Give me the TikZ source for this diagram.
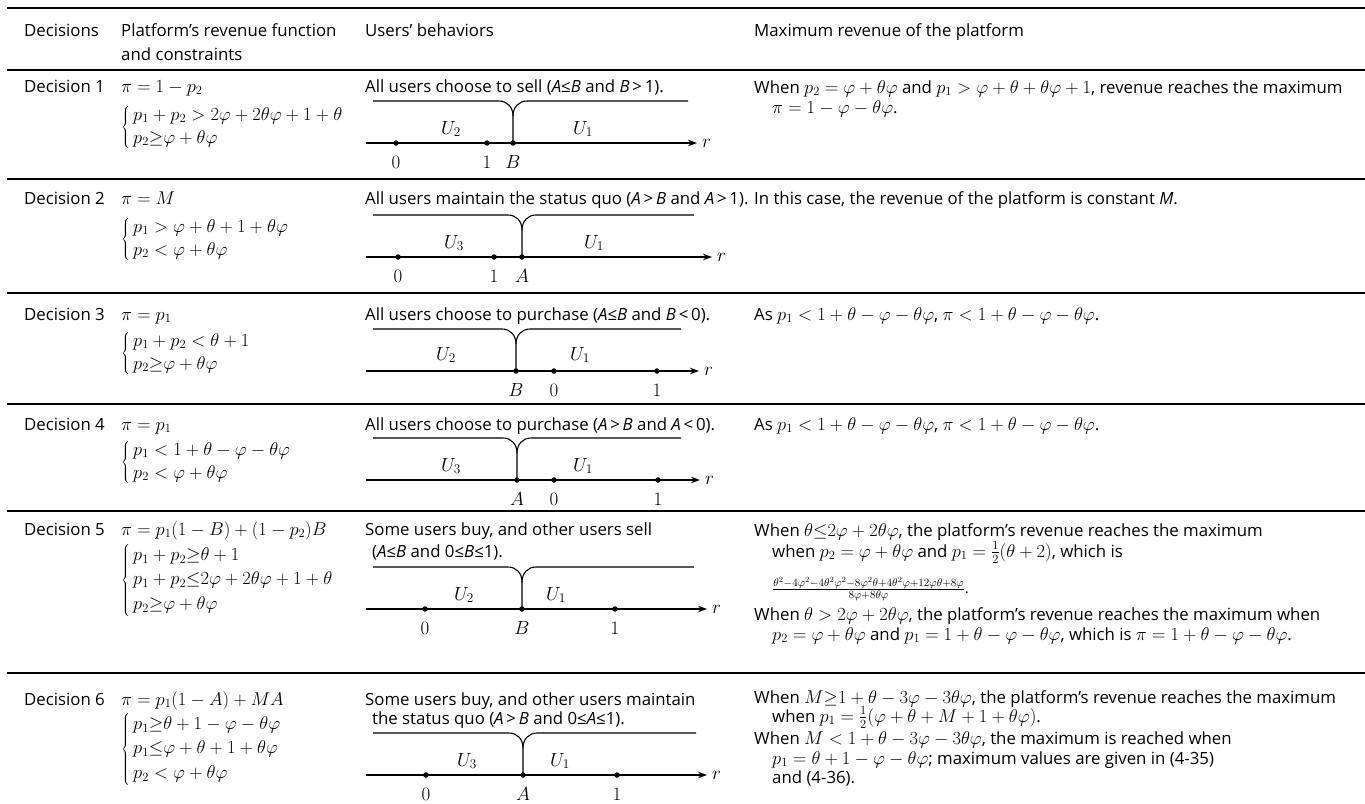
\RequirePackage{fix-cm}
\documentclass[tikz,border=0pt]{standalone}
\usepackage[no-math]{fontspec}
\setmainfont{Open Sans}
\usetikzlibrary{arrows.meta}
\DeclareMathSizes{16.8}{18.5}{12.5}{10}
\DeclareMathSizes{15}{16.5}{11.1}{8}
\DeclareMathSizes{19}{19}{13.3}{9.5}
\newcommand\brtop[4]{% #1 top y, #2 cusp x, #3 right end x, #4 axis y
  \draw[nl] (373,#1) -- (#2-14,#1) .. controls (#2-6,#1) and (#2,#1+6) .. (#2,#1+15) -- (#2,#4);
  \draw[nl] (#3,#1) -- (#2+14,#1) .. controls (#2+6,#1) and (#2,#1+6) .. (#2,#1+15);
}
\newcommand\cs[1]{$\left\{\begin{array}{@{\,}l@{}}#1\end{array}\right.$}
\tikzset{
  txt/.style={anchor=base west,inner sep=0pt,font=\fontsize{16.8}{20}\selectfont},
  txts/.style={anchor=base west,inner sep=0pt,font=\fontsize{15}{18}\selectfont},
  cas/.style={anchor=west,inner sep=0pt,font=\fontsize{16.8}{20}\selectfont\def\arraystretch{1.15}},
  casl/.style={anchor=west,inner sep=0pt,font=\fontsize{16.8}{20}\selectfont\def\arraystretch{1.22}},
  hrule/.style={line width=2pt},
  nl/.style={line width=1.1pt},
  lab/.style={inner sep=0pt,font=\fontsize{19}{22}\selectfont},
  pt/.style={circle,fill=black,inner sep=0pt,minimum size=5.5pt},
  axis/.style={nl,-{Stealth[length=9pt,width=6.5pt]}},
}
\begin{document}
\begin{tikzpicture}[x=1pt,y=-1pt]
\useasboundingbox (0,0) rectangle (1365,803);
% rules
\foreach \yy in {8,70,179,293,404,511,673} \draw[hrule] (7,\yy) -- (1365,\yy);
% header
\node[txt] (h1) at (24,36) {Decisions};
\node[txt] (h2) at (121,36) {Platform’s revenue function};
\node[txt] (h2b) at (121,60) {and constraints};
\node[txt] (h3) at (365,36) {Users’ behaviors};
\node[txt] (h4) at (754,36) {Maximum revenue of the platform};

% ---------- Row 1
\node[txt] (d1) at (24,92) {Decision 1};
\node[txt] (f1) at (121,92) {$\pi=1-p_2$};
\node[cas] (c1) at (121,127) {\cs{p_1+p_2>2\varphi+2\theta\varphi+1+\theta\\ p_2{\geq}\varphi+\theta\varphi}};
\node[txt] (b1) at (365,92) {All users choose to sell (\textit{A}≤\textit{B} and \textit{B}\,>\,1).};
\node[txt] (m1a) at (754,93) {When $p_2=\varphi+\theta\varphi$ and $p_1>\varphi+\theta+\theta\varphi+1$, revenue reaches the maximum};
\node[txt] (m1b) at (772,113) {$\pi=1-\varphi-\theta\varphi$.};
\brtop{101}{513}{688}{143}
\coordinate (s1) at (366,143); \coordinate (e1) at (697,143);
\draw[axis] (s1) -- (e1);
\node[lab,anchor=west] (r1) at (702,143) {$r$};
\node[lab] (u1a) at (451,129) {$U_2$};
\node[lab] (u1b) at (583,129) {$U_1$};
\node[pt] (p1a) at (396,143) {}; \node[lab] (l1a) at (396,162) {$0$};
\node[pt] (p1b) at (487,143) {}; \node[lab] (l1b) at (487,162) {$1$};
\node[pt] (p1c) at (513,143) {}; \node[lab] (l1c) at (513,162) {$B$};

% ---------- Row 2
\node[txt] (d2) at (24,204) {Decision 2};
\node[txt] (f2) at (121,204) {$\pi=M$};
\node[cas] (c2) at (121,239) {\cs{p_1>\varphi+\theta+1+\theta\varphi\\ p_2<\varphi+\theta\varphi}};
\node[txt] (b2) at (365,204) {All users maintain the status quo (\textit{A}\,>\,\textit{B} and \textit{A}\,>\,1).};
\node[txt] (m2) at (754,204) {In this case, the revenue of the platform is constant \textit{M}.};
\brtop{215}{522}{694}{257}
\coordinate (s2) at (366,257); \coordinate (e2) at (712,257);
\draw[axis] (s2) -- (e2);
\node[lab,anchor=west] (r2) at (717,257) {$r$};
\node[lab] (u2a) at (454,243) {$U_3$};
\node[lab] (u2b) at (594,243) {$U_1$};
\node[pt] (p2a) at (398,257) {}; \node[lab] (l2a) at (398,276) {$0$};
\node[pt] (p2b) at (494,257) {}; \node[lab] (l2b) at (494,276) {$1$};
\node[pt] (p2c) at (522,257) {}; \node[lab] (l2c) at (522,276) {$A$};

% ---------- Row 3
\node[txt] (d3) at (24,320) {Decision 3};
\node[txt] (f3) at (121,320) {$\pi=p_1$};
\node[cas] (c3) at (121,353) {\cs{p_1+p_2<\theta+1\\ p_2{\geq}\varphi+\theta\varphi}};
\node[txt] (b3) at (365,320) {All users choose to purchase (\textit{A}≤\textit{B} and \textit{B}\,<\,0).};
\node[txt] (m3) at (754,320) {As $p_1<1+\theta-\varphi-\theta\varphi$, $\pi<1+\theta-\varphi-\theta\varphi$.};
\brtop{329}{516}{681}{371}
\coordinate (s3) at (366,371); \coordinate (e3) at (699,371);
\draw[axis] (s3) -- (e3);
\node[lab,anchor=west] (r3) at (704,371) {$r$};
\node[lab] (u3a) at (446,355) {$U_2$};
\node[lab] (u3b) at (580,355) {$U_1$};
\node[pt] (p3a) at (516,371) {}; \node[lab] (l3a) at (516,390) {$B$};
\node[pt] (p3b) at (554,371) {}; \node[lab] (l3b) at (554,390) {$0$};
\node[pt] (p3c) at (657,371) {}; \node[lab] (l3c) at (657,390) {$1$};

% ---------- Row 4
\node[txt] (d4) at (24,430) {Decision 4};
\node[txt] (f4) at (121,430) {$\pi=p_1$};
\node[cas] (c4) at (121,462) {\cs{p_1<1+\theta-\varphi-\theta\varphi\\ p_2<\varphi+\theta\varphi}};
\node[txt] (b4) at (365,430) {All users choose to purchase (\textit{A}\,>\,\textit{B} and \textit{A}\,<\,0).};
\node[txt] (m4) at (754,430) {As $p_1<1+\theta-\varphi-\theta\varphi$, $\pi<1+\theta-\varphi-\theta\varphi$.};
\brtop{438}{517}{681}{480}
\coordinate (s4) at (366,480); \coordinate (e4) at (700,480);
\draw[axis] (s4) -- (e4);
\node[lab,anchor=west] (r4) at (705,480) {$r$};
\node[lab] (u4a) at (451,466) {$U_3$};
\node[lab] (u4b) at (583,466) {$U_1$};
\node[pt] (p4a) at (517,480) {}; \node[lab] (l4a) at (517,499) {$A$};
\node[pt] (p4b) at (554,480) {}; \node[lab] (l4b) at (554,499) {$0$};
\node[pt] (p4c) at (658,480) {}; \node[lab] (l4c) at (658,499) {$1$};

% ---------- Row 5
\node[txt] (d5) at (24,535) {Decision 5};
\node[txt] (f5) at (121,535) {$\pi=p_1(1-B)+(1-p_2)B$};
\node[casl] (c5) at (121,580) {\cs{p_1+p_2{\geq}\theta+1\\ p_1+p_2{\leq}2\varphi+2\theta\varphi+1+\theta\\ p_2{\geq}\varphi+\theta\varphi}};
\node[txt] (b5a) at (365,535) {Some users buy, and other users sell};
\node[txt] (b5b) at (372,557) {(\textit{A}≤\textit{B} and 0≤\textit{B}≤1).};
\node[txt] (m5a) at (754,536) {When $\theta{\leq}2\varphi+2\theta\varphi$, the platform’s revenue reaches the maximum};
\node[txt] (m5b) at (772,557) {when $p_2=\varphi+\theta\varphi$ and $p_1=\frac{1}{2}(\theta+2)$, which is};
\node[txts] (m5c) at (772,593) {$\frac{\theta^2-4\varphi^2-4\theta^2\varphi^2-8\varphi^2\theta+4\theta^2\varphi+12\varphi\theta+8\varphi}{8\varphi+8\theta\varphi}$.};
\node[txt] (m5d) at (754,620) {When $\theta>2\varphi+2\theta\varphi$, the platform’s revenue reaches the maximum when};
\node[txt] (m5e) at (772,640) {$p_2=\varphi+\theta\varphi$ and $p_1=1+\theta-\varphi-\theta\varphi$, which is $\pi=1+\theta-\varphi-\theta\varphi$.};
\brtop{567}{522}{694}{609}
\coordinate (s5) at (366,609); \coordinate (e5) at (707,609);
\draw[axis] (s5) -- (e5);
\node[lab,anchor=west] (r5) at (712,609) {$r$};
\node[lab] (u5a) at (464,595) {$U_2$};
\node[lab] (u5b) at (556,595) {$U_1$};
\node[pt] (p5a) at (425,609) {}; \node[lab] (l5a) at (425,628) {$0$};
\node[pt] (p5b) at (522,609) {}; \node[lab] (l5b) at (522,628) {$B$};
\node[pt] (p5c) at (615,609) {}; \node[lab] (l5c) at (615,628) {$1$};

% ---------- Row 6
\node[txt] (d6) at (24,705) {Decision 6};
\node[txt] (f6) at (121,705) {$\pi=p_1(1-A)+MA$};
\node[casl] (c6) at (121,749) {\cs{p_1{\geq}\theta+1-\varphi-\theta\varphi\\ p_1{\leq}\varphi+\theta+1+\theta\varphi\\ p_2<\varphi+\theta\varphi}};
\node[txt] (b6a) at (365,705) {Some users buy, and other users maintain};
\node[txt] (b6b) at (372,724) {the status quo (\textit{A}\,>\,\textit{B} and 0≤\textit{A}≤1).};
\node[txt] (m6a) at (754,703) {When $M{\geq}1+\theta-3\varphi-3\theta\varphi$, the platform’s revenue reaches the maximum};
\node[txt] (m6b) at (772,722) {when $p_1=\frac{1}{2}(\varphi+\theta+M+1+\theta\varphi)$.};
\node[txt] (m6c) at (754,744) {When $M<1+\theta-3\varphi-3\theta\varphi$, the maximum is reached when};
\node[txt] (m6d) at (772,764) {$p_1=\theta+1-\varphi-\theta\varphi$; maximum values are given in (4-35)};
\node[txt] (m6e) at (772,783) {and (4-36).};
\brtop{733}{523}{696}{775}
\coordinate (s6) at (366,775); \coordinate (e6) at (707,775);
\draw[axis] (s6) -- (e6);
\node[lab,anchor=west] (r6) at (712,775) {$r$};
\node[lab] (u6a) at (467,761) {$U_3$};
\node[lab] (u6b) at (560,761) {$U_1$};
\node[pt] (p6a) at (426,775) {}; \node[lab] (l6a) at (426,794) {$0$};
\node[pt] (p6b) at (523,775) {}; \node[lab] (l6b) at (523,794) {$A$};
\node[pt] (p6c) at (617,775) {}; \node[lab] (l6c) at (617,794) {$1$};
\end{tikzpicture}
\end{document}
